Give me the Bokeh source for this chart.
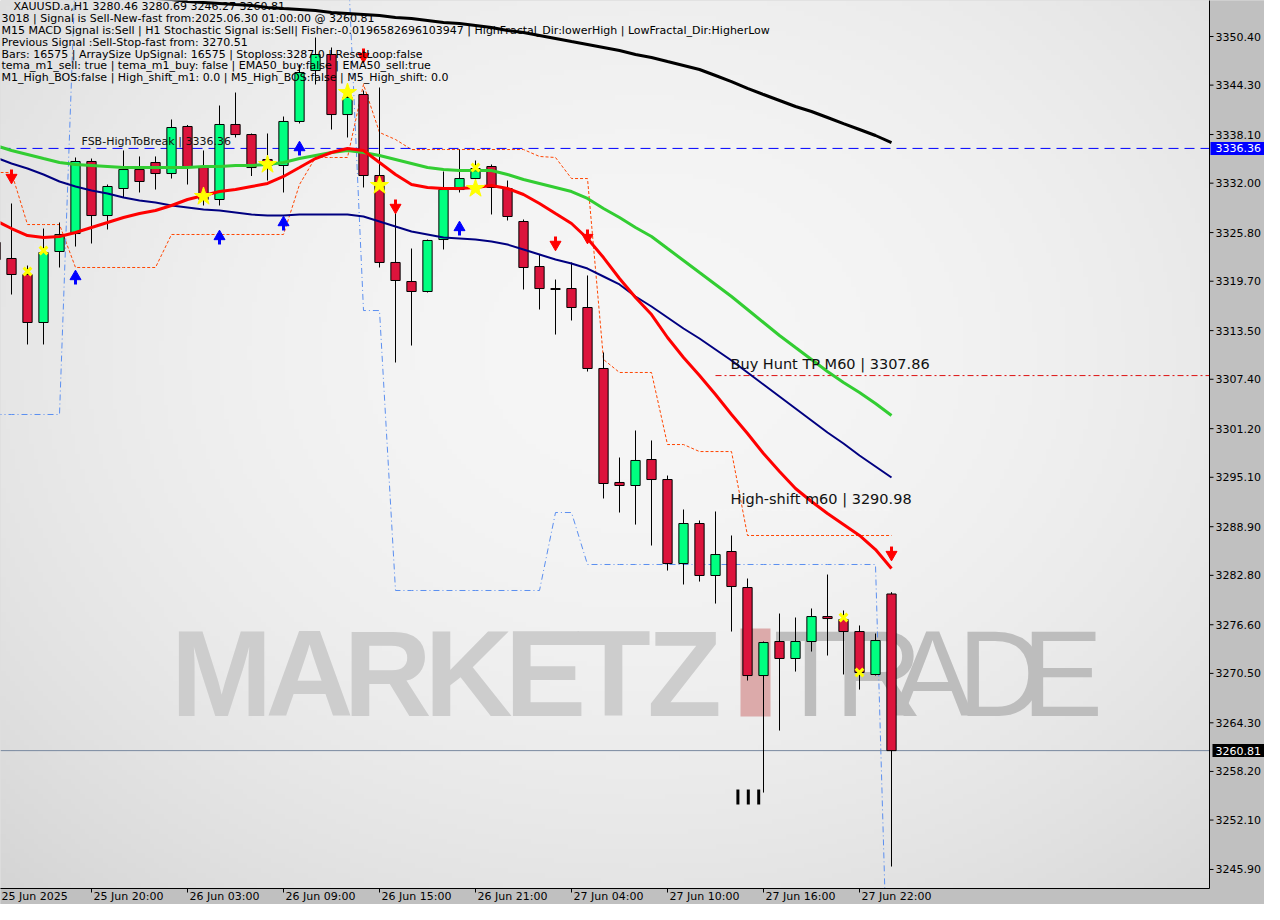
import numpy as np
from bokeh.plotting import figure
from bokeh.models import Range1d, ColumnDataSource
from bokeh.core.properties import value
from bokeh.embed import file_html
from bokeh.resources import INLINE

# ---------------- data ----------------
symbol_line = "XAUUSD.a,H1  3280.46 3280.69 3246.27 3260.81"
info_lines = [
    "3018 | Signal is Sell-New-fast from:2025.06.30 01:00:00 @ 3260.81",
    "M15 MACD Signal is:Sell | H1 Stochastic Signal is:Sell| Fisher:-0.0196582696103947 | HighFractal_Dir:lowerHigh | LowFractal_Dir:HigherLow",
    "Previous Signal :Sell-Stop-fast from: 3270.51",
    "Bars: 16575 | ArraySize UpSignal: 16575 | Stoploss:3287.0 | ResetLoop:false",
    "tema_m1_sell: true | tema_m1_buy: false | EMA50_buy:false | EMA50_sell:true",
    "M1_High_BOS:false | High_shift_m1: 0.0 | M5_High_BOS:false | M5_High_shift: 0.0",
]
time_labels = ["25 Jun 2025", "25 Jun 20:00", "26 Jun 03:00", "26 Jun 09:00", "26 Jun 15:00",
               "26 Jun 21:00", "27 Jun 04:00", "27 Jun 10:00", "27 Jun 16:00", "27 Jun 22:00"]
time_label_bars = [0, 6, 12, 18, 24, 30, 36, 42, 48, 54]
price_ticks = [3350.40, 3344.30, 3338.10, 3332.00, 3325.80, 3319.70, 3313.50, 3307.40, 3301.20,
               3295.10, 3288.90, 3282.80, 3276.60, 3270.50, 3264.30, 3258.20, 3252.10, 3245.90]

opens = [3324.56, 3322.55, 3320.54, 3314.52, 3323.43, 3325.68, 3334.72, 3327.94, 3331.33, 3333.71,
         3334.59, 3333.21, 3339.11, 3333.96, 3329.95, 3339.36, 3338.10, 3334.97, 3334.22, 3339.74,
         3346.13, 3348.14, 3340.61, 3343.12, 3332.96, 3322.05, 3319.66, 3318.41, 3324.93, 3331.20,
         3332.58, 3334.09, 3331.33, 3327.19, 3321.54, 3318.78, 3318.78, 3316.40, 3308.75, 3294.45,
         3294.07, 3297.33, 3294.82, 3284.28, 3289.30, 3282.78, 3285.79, 3281.27, 3270.23, 3274.50,
         3272.37, 3274.50, 3277.63, 3277.26, 3275.75, 3270.36, 3280.46]
highs = [3329.32, 3329.45, 3321.67, 3326.31, 3327.06, 3335.22, 3335.09, 3331.83, 3336.10, 3335.35,
         3335.35, 3339.99, 3339.30, 3336.10, 3341.74, 3343.37, 3338.23, 3338.23, 3340.36, 3346.89,
         3350.27, 3349.02, 3344.25, 3343.62, 3344.00, 3328.57, 3323.80, 3324.93, 3333.46, 3336.22,
         3334.84, 3334.34, 3332.33, 3327.44, 3323.05, 3319.91, 3322.05, 3320.42, 3310.76, 3297.58,
         3300.97, 3299.72, 3295.32, 3291.06, 3289.68, 3290.81, 3287.80, 3282.40, 3274.50, 3278.01,
         3277.51, 3278.64, 3282.90, 3278.39, 3276.51, 3275.50, 3280.69]
lows = [3321.80, 3318.03, 3311.76, 3311.76, 3321.42, 3324.05, 3324.43, 3326.19, 3330.20, 3330.83,
        3331.20, 3332.58, 3331.83, 3329.20, 3329.20, 3337.73, 3332.90, 3332.33, 3330.83, 3339.49,
        3344.38, 3338.73, 3337.73, 3331.46, 3321.42, 3309.50, 3311.63, 3318.28, 3323.68, 3330.83,
        3331.46, 3328.07, 3327.32, 3318.66, 3316.15, 3313.01, 3314.77, 3308.37, 3292.44, 3290.68,
        3289.17, 3286.54, 3283.40, 3281.65, 3282.02, 3279.26, 3275.75, 3269.60, 3255.55, 3263.33,
        3270.73, 3273.24, 3272.74, 3270.36, 3268.47, 3270.23, 3246.27]
closes = [3322.42, 3320.54, 3314.52, 3323.30, 3325.56, 3334.72, 3327.94, 3331.58, 3333.71, 3332.21,
          3333.21, 3338.98, 3334.09, 3329.95, 3339.36, 3338.10, 3333.96, 3334.22, 3339.74, 3345.88,
          3348.14, 3340.61, 3342.75, 3332.96, 3322.05, 3319.79, 3318.41, 3324.81, 3331.20, 3332.58,
          3333.84, 3331.46, 3327.82, 3321.42, 3318.78, 3318.66, 3316.40, 3308.75, 3294.32, 3294.07,
          3297.21, 3294.82, 3284.28, 3289.30, 3282.78, 3285.41, 3281.40, 3270.23, 3274.37, 3272.37,
          3274.50, 3277.63, 3277.38, 3275.75, 3270.61, 3274.62, 3260.81]

ma_black = [3356.67, 3356.55, 3356.42, 3356.17, 3356.05, 3355.92, 3355.79, 3355.67, 3355.42, 3355.29,
            3355.17, 3355.04, 3354.79, 3354.67, 3354.54, 3354.41, 3354.29, 3354.04, 3353.91, 3353.79,
            3353.66, 3353.41, 3353.29, 3353.16, 3353.03, 3352.78, 3352.66, 3352.41, 3352.16, 3352.03,
            3351.78, 3351.53, 3351.15, 3350.90, 3350.53, 3350.15, 3349.77, 3349.40, 3349.02, 3348.64,
            3348.14, 3347.77, 3347.26, 3346.76, 3346.26, 3345.51, 3344.75, 3343.88, 3343.12, 3342.37,
            3341.62, 3340.99, 3340.24, 3339.46, 3338.73, 3337.98, 3337.10]
ma_green = [3336.72, 3336.10, 3335.60, 3335.09, 3334.59, 3334.34, 3334.22, 3334.09, 3333.96, 3333.96,
            3333.96, 3333.96, 3333.96, 3334.09, 3334.09, 3334.22, 3334.22, 3334.34, 3334.59, 3335.09,
            3335.47, 3335.85, 3336.10, 3335.85, 3335.47, 3334.97, 3334.47, 3333.96, 3333.71, 3333.59,
            3333.59, 3333.59, 3333.09, 3332.46, 3331.96, 3331.46, 3330.95, 3330.08, 3328.82, 3327.69,
            3326.44, 3325.31, 3323.80, 3322.30, 3320.79, 3319.29, 3317.78, 3316.15, 3314.52, 3312.89,
            3311.38, 3309.88, 3308.37, 3306.99, 3305.74, 3304.36, 3302.85]
ma_red = [3327.32, 3326.31, 3325.43, 3325.18, 3325.31, 3325.81, 3326.44, 3327.06, 3327.69, 3328.19,
          3328.57, 3329.20, 3329.95, 3330.45, 3330.95, 3331.20, 3331.58, 3331.96, 3332.84, 3333.96,
          3335.09, 3335.85, 3336.35, 3336.10, 3334.59, 3333.09, 3331.83, 3331.46, 3331.33, 3331.33,
          3331.46, 3331.71, 3331.33, 3330.58, 3329.45, 3328.19, 3326.94, 3325.06, 3322.67, 3320.04,
          3317.66, 3315.52, 3312.64, 3310.13, 3307.87, 3305.49, 3302.98, 3300.59, 3298.08, 3295.83,
          3293.69, 3292.06, 3290.56, 3289.18, 3287.80, 3286.04, 3283.66]
ma_navy = [3335.22, 3334.47, 3333.84, 3333.09, 3332.21, 3331.58, 3331.08, 3330.70, 3330.20, 3329.82,
           3329.57, 3329.20, 3328.95, 3328.70, 3328.57, 3328.32, 3328.07, 3327.94, 3327.94, 3328.07,
           3328.07, 3328.07, 3328.07, 3327.82, 3327.19, 3326.56, 3325.94, 3325.56, 3325.18, 3325.06,
           3324.93, 3324.68, 3324.30, 3323.68, 3323.05, 3322.42, 3321.92, 3321.29, 3320.29, 3319.29,
           3317.78, 3316.53, 3315.15, 3313.77, 3312.51, 3311.13, 3309.75, 3308.25, 3306.74, 3305.23,
           3303.73, 3302.22, 3300.72, 3299.34, 3297.83, 3296.45, 3295.07]
band_upper = [3333.34, 3333.34, 3326.81, 3326.81, 3326.81, 3321.42, 3321.42, 3321.42, 3321.42, 3321.42,
              3321.42, 3325.56, 3325.56, 3325.56, 3325.56, 3325.56, 3325.56, 3325.56, 3325.56, 3331.83,
              3335.22, 3335.22, 3335.22, 3344.38, 3338.36, 3337.48, 3336.22, 3336.22, 3336.22, 3336.22,
              3336.22, 3336.22, 3336.22, 3336.22, 3335.35, 3335.22, 3332.58, 3332.58, 3309.88, 3308.25,
              3308.25, 3308.25, 3299.21, 3299.21, 3298.33, 3298.33, 3298.33, 3287.80, 3287.80, 3287.80,
              3287.80, 3287.80, 3287.80, 3287.80, 3287.80, 3287.80, 3287.80]
band_lower = [3302.98, 3302.98, 3302.98, 3302.98, 3302.98, 3359.06, 3359.06, 3359.06, 3359.06, 3359.06,
              3359.06, 3359.06, 3359.06, 3359.06, 3359.06, 3359.06, 3359.06, 3359.06, 3359.06, 3359.06,
              3359.06, 3359.06, 3360.94, 3316.02, 3316.02, 3280.90, 3280.90, 3280.90, 3280.90, 3280.90,
              3280.90, 3280.90, 3280.90, 3280.90, 3280.90, 3290.68, 3290.68, 3284.16, 3284.16, 3284.16,
              3284.16, 3284.16, 3284.16, 3284.16, 3284.16, 3284.16, 3284.16, 3284.16, 3284.16, 3284.16,
              3284.16, 3284.16, 3284.16, 3284.16, 3284.16, 3284.16, 3214.15]

sell_arrow_bars = [1, 23, 25, 35, 37, 56]
sell_arrow_prices = [3332.96, 3348.14, 3329.20, 3324.56, 3325.43, 3285.66]
buy_arrow_bars = [5, 14, 18, 19, 29]
buy_arrow_prices = [3320.04, 3325.06, 3326.81, 3336.22, 3326.19]
star_bars = [13, 17, 22, 24, 30]
star_prices = [3330.33, 3334.34, 3343.37, 3331.71, 3331.33]
cross_bars = [2, 3, 30, 53, 54]
cross_prices = [3320.92, 3323.55, 3333.96, 3277.51, 3270.61]
pattern_mark_bars = [46.4, 47.05, 47.7]
pattern_mark_top = 3255.93
pattern_mark_bottom = 3254.05

fsb_level = 3336.36
fsb_text = "FSB-HighToBreak | 3336.36"
tp_level = 3307.86
tp_text = "Buy Hunt TP M60 | 3307.86"
tp_start_bar = 45
hs_level = 3290.98
hs_text = "High-shift m60 | 3290.98"
hs_bars = [45, 56]
last_price = 3260.81

# ---------------- layout geometry (page pixels of the reference) ----------------
CANVAS_W, CANVAS_H = 1264, 904
BAR_PX = 16.0
PX_PER_PRICE = 7.971


def px2x(px):
    return (px - 3) / BAR_PX


def px2y(py):
    return 3350.40 - (py - 44) / PX_PER_PRICE


def dy(pixels):
    return pixels / PX_PER_PRICE


X0 = px2x(8)
X1 = X0 + CANVAS_W / BAR_PX
Y1 = px2y(8)
Y0 = Y1 - CANVAS_H / PX_PER_PRICE
XR = px2x(1217)      # right edge of chart area
YB = px2y(896)       # bottom edge of chart area

FONT = "DejaVu Sans"
PANEL = "#c0c0c0"

p = figure(frame_width=CANVAS_W, frame_height=CANVAS_H,
           x_range=Range1d(X0, X1), y_range=Range1d(Y0, Y1),
           x_axis_location=None, y_axis_location=None,
           output_backend="svg", toolbar_location=None,
           min_border=0, min_border_left=0, min_border_right=0,
           min_border_top=0, min_border_bottom=0)
p.grid.visible = False
p.background_fill_color = PANEL
p.border_fill_color = PANEL
p.outline_line_color = None

# chart-area background gradient (style only)
H, W = 180, 260
rr, cc = np.mgrid[0:H, 0:W]
pxg = 8 + (cc + 0.5) / W * (1217 - 8)
pyg = 896 - (rr + 0.5) / H * (896 - 8)
r2 = ((pxg - 650) / 700.0) ** 2 + ((pyg - 360) / 560.0) ** 2
v = np.clip(246 - 19 * r2, 205, 248).astype(np.uint32)
img = ((255 << 24) | (v << 16) | (v << 8) | v).astype(np.uint32)
p.image_rgba(image=[img], x=X0, y=YB, dw=XR - X0, dh=Y1 - YB, level="image")

# watermark
wm_letters = ["M", "A", "R", "K", "E", "T", "Z"]
wm_centers = [229, 317, 395, 476, 553, 621, 692]
p.text(x=[px2x(c) for c in wm_centers], y=[px2y(681)] * 7, text=wm_letters,
       text_font=value("Liberation Sans"), text_font_style="bold", text_font_size="122px",
       text_color="#cdcdcd", text_align="center", text_baseline="middle", level="underlay")
tr_letters = ["T", "R", "A", "D", "E"]
tr_centers = [818, 886, 940, 1009, 1070]
p.text(x=[px2x(c) for c in tr_centers], y=[px2y(681)] * 5, text=tr_letters,
       text_font=value("Liberation Sans"), text_font_size="122px",
       text_color="#bdbdbd", text_align="center", text_baseline="middle", level="underlay")
p.quad(left=[px2x(748)], right=[px2x(778)], top=[px2y(636)], bottom=[px2y(724)],
       fill_color="#dcaaaa", line_color=None, level="underlay")

bars = list(range(len(opens)))

# bands
p.line(bars, band_upper, line_color="#ff4500", line_width=1, line_dash="3 2")
p.line(bars, band_lower, line_color="#5b8ff0", line_width=1, line_dash="6 3 1 3")

# horizontal levels
p.segment(x0=[X0], y0=[fsb_level], x1=[XR], y1=[fsb_level],
          line_color="#0000ff", line_width=1, line_dash="10 6")
p.segment(x0=[X0], y0=[last_price], x1=[XR], y1=[last_price],
          line_color="#7a8aa0", line_width=1)
p.segment(x0=[tp_start_bar], y0=[tp_level], x1=[XR], y1=[tp_level],
          line_color="#dd1111", line_width=1, line_dash="6 3 2 3")
p.segment(x0=[hs_bars[0]], y0=[hs_level], x1=[hs_bars[1]], y1=[hs_level],
          line_color="#f6f6f6", line_width=1, line_dash="6 3 2 3")

# candles
colors = ["#00ff80" if c >= o else "#dc143c" for o, c in zip(opens, closes)]
src = ColumnDataSource(dict(x=bars, o=opens, h=highs, l=lows, c=closes,
                            top=[max(o, c) for o, c in zip(opens, closes)],
                            bot=[min(o, c) for o, c in zip(opens, closes)],
                            color=colors))
p.segment(x0="x", y0="h", x1="x", y1="l", source=src, line_color="black", line_width=1)
p.vbar(x="x", width=0.58, top="top", bottom="bot", source=src,
       fill_color="color", line_color="black", line_width=1)

# moving averages
p.line(bars, ma_black, line_color="black", line_width=3)
p.line(bars, ma_green, line_color="#32cd32", line_width=3)
p.line(bars, ma_navy, line_color="#000080", line_width=2)
p.line(bars, ma_red, line_color="#ff0000", line_width=3)

# pattern marks
p.segment(x0=pattern_mark_bars, y0=[pattern_mark_top] * 3, x1=pattern_mark_bars,
          y1=[pattern_mark_bottom] * 3, line_color="black", line_width=3)

# signal arrows (shaft + head)
p.segment(x0=sell_arrow_bars, y0=[v + dy(6) for v in sell_arrow_prices],
          x1=sell_arrow_bars, y1=[v - dy(1) for v in sell_arrow_prices],
          line_color="#ff0000", line_width=3)
p.scatter(sell_arrow_bars, [v - dy(2) for v in sell_arrow_prices], marker="inverted_triangle",
          size=11, fill_color="#ff0000", line_color="#ff0000")
p.segment(x0=buy_arrow_bars, y0=[v - dy(6) for v in buy_arrow_prices],
          x1=buy_arrow_bars, y1=[v + dy(1) for v in buy_arrow_prices],
          line_color="#0000ff", line_width=3)
p.scatter(buy_arrow_bars, [v + dy(2) for v in buy_arrow_prices], marker="triangle",
          size=11, fill_color="#0000ff", line_color="#0000ff")

p.scatter(star_bars, star_prices, marker="star", size=19, fill_color="#ffff00",
          line_color="#ffff00")
p.scatter(cross_bars, cross_prices, marker="x", size=11, line_color="#ffff00", line_width=3)

# level labels
p.text(x=[px2x(89)], y=[px2y(149)], text=[fsb_text], text_font=value(FONT),
       text_font_size="11px", text_color="#111111", text_baseline="middle")
p.text(x=[px2x(738)], y=[px2y(371)], text=[tp_text], text_font=value(FONT),
       text_font_size="14.5px", text_color="#111111", text_baseline="middle")
p.text(x=[px2x(738)], y=[px2y(506)], text=[hs_text], text_font=value(FONT),
       text_font_size="14.5px", text_color="#111111", text_baseline="middle")

# header texts
hdr_y = [px2y(14)] + [px2y(25.8 + 11.9 * k) for k in range(len(info_lines))]
hdr_x = [px2x(21)] + [px2x(9)] * len(info_lines)
p.text(x=hdr_x, y=hdr_y, text=[symbol_line] + info_lines, text_font=value(FONT),
       text_font_size="11px", text_color="black", text_baseline="middle", text_align="left")

# ---------------- axis panels (drawn over the chart glyphs) ----------------
p.quad(left=[XR], right=[X1 + 2], bottom=[Y0 - 2], top=[Y1 + 2], fill_color=PANEL, line_color=None)
p.quad(left=[X0 - 2], right=[XR], bottom=[Y0 - 2], top=[YB], fill_color=PANEL, line_color=None)
p.segment(x0=[XR], y0=[YB], x1=[XR], y1=[Y1 + 2], line_color="black", line_width=1)
p.segment(x0=[X0 - 2], y0=[YB], x1=[XR], y1=[YB], line_color="black", line_width=1)

# price scale
n_y = len(price_ticks)
p.segment(x0=[XR] * n_y, y0=price_ticks, x1=[XR + 4 / BAR_PX] * n_y, y1=price_ticks,
          line_color="black", line_width=1)
p.text(x=[px2x(1223)] * n_y, y=price_ticks, text=["%.2f" % t for t in price_ticks],
       text_font=value(FONT), text_font_size="11px", text_color="black",
       text_align="left", text_baseline="middle")

# time scale
n_x = len(time_label_bars)
p.segment(x0=time_label_bars, y0=[YB] * n_x, x1=time_label_bars,
          y1=[YB - dy(4)] * n_x, line_color="black", line_width=1)
p.text(x=[max(b + 2 / BAR_PX, X0 + 1 / BAR_PX) for b in time_label_bars], y=[px2y(904)] * n_x,
       text=time_labels, text_font=value(FONT), text_font_size="11px", text_color="black",
       text_align="left", text_baseline="middle")

# current price boxes on the scale
box_h = dy(6.5)
p.quad(left=[px2x(1218)], right=[X1 + 2], top=[fsb_level + box_h], bottom=[fsb_level - box_h],
       fill_color="#0000ff", line_color=None)
p.text(x=[px2x(1223)], y=[fsb_level], text=["%.2f" % fsb_level], text_font=value(FONT),
       text_font_size="11px", text_color="white", text_align="left", text_baseline="middle")
p.quad(left=[px2x(1220)], right=[X1 + 2], top=[last_price + box_h], bottom=[last_price - box_h],
       fill_color="black", line_color=None)
p.text(x=[px2x(1223)], y=[last_price], text=["%.2f" % last_price], text_font=value(FONT),
       text_font_size="11px", text_color="white", text_align="left", text_baseline="middle")

open("out.html", "w").write(file_html(p, INLINE))
